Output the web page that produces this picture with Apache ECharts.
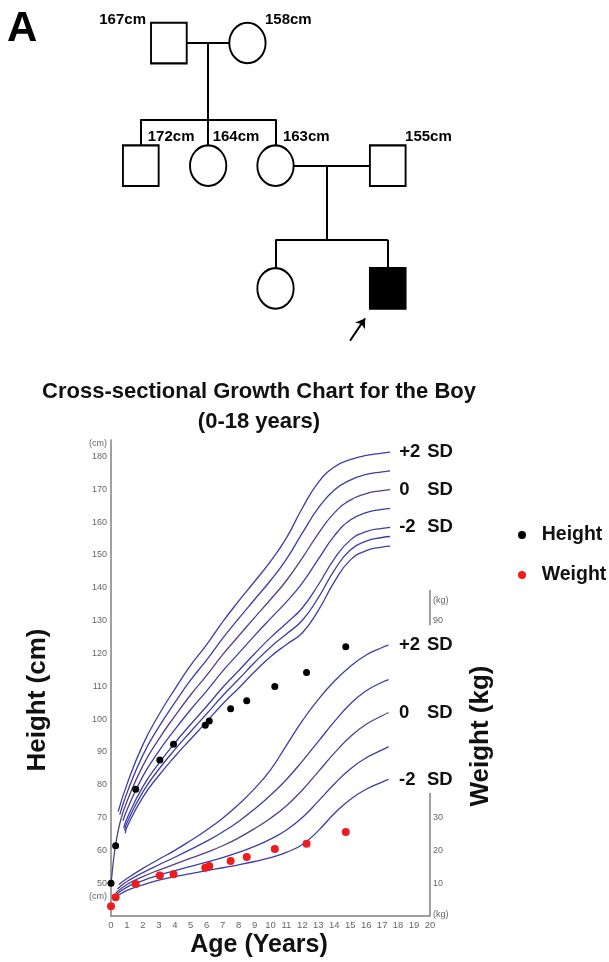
<!DOCTYPE html>
<html><head><meta charset="utf-8">
<script src="https://cdn.jsdelivr.net/npm/echarts@6/dist/echarts.min.js"></script>
<style>html,body{margin:0;padding:0;background:#fff}#c{width:609px;height:962px}</style>
</head><body><div id="c"></div>
<script>
// ---------------- Pedigree data ----------------
const pedCol = [1.25, 4.75, 0, 3, 6, 11, 6, 11];
const pedGen = [0, 0, 1, 1, 1, 1, 2, 2];
const pedSex = ['M', 'F', 'M', 'F', 'F', 'M', 'F', 'M'];
const pedAffected = [0, 0, 0, 0, 0, 0, 0, 1];
const pedLabelText = ['167cm', '158cm', '172cm', '164cm', '163cm', '155cm'];
const pedLabelCol = [0.23, 5.53, 0.31, 3.2, 6.33, 11.77];
const pedLabelGen = [-0.187, -0.187, 0.766, 0.766, 0.766, 0.766];
const pedLabelAlign = ['right', 'left', 'left', 'left', 'left', 'left'];
const pedLinks = [
  [[1.25, 0], [4.75, 0]], [[3, 0], [3, 0.622]], [[0, 0.622], [6, 0.622]],
  [[0, 0.622], [0, 1]], [[3, 0.622], [3, 1]], [[6, 0.622], [6, 1]],
  [[6, 1], [11, 1]], [[8.3, 1], [8.3, 1.603]], [[6, 1.603], [11, 1.603]],
  [[6, 1.603], [6, 2]], [[11, 1.603], [11, 2]]
];
const pedArrow = [[9.32, 2.426], [9.99, 2.244]];

// ---------------- Growth chart data ----------------
const ageTicks = [0,1,2,3,4,5,6,7,8,9,10,11,12,13,14,15,16,17,18,19,20];
const cmLabels = [46, 50, 60, 70, 80, 90, 100, 110, 120, 130, 140, 150, 160, 170, 180, 184];
const kgLabels = [0.6, 10, 20, 30, 90, 96];

// Patient measurements
const visitAges = [0, 0.29, 1.55, 3.06, 3.92, 5.91, 6.16, 7.5, 8.51, 10.27, 12.26, 14.72];
const heightCm  = [50, 61.4, 78.6, 87.5, 92.3, 98.1, 99.4, 103.1, 105.6, 109.9, 114.2, 122.0];
const weightKg  = [3.0, 5.7, 9.75, 12.3, 12.7, 14.7, 15.2, 16.75, 18.0, 20.4, 22.0, 25.6];

// Height reference curves [age, cm]
const hP2 = [[0.45,71.8],[1,80.1],[2,92.2],[3,101.3],[4,109.1],[5,116.4],[6,122.7],[7,129.6],[8,135.9],[9,141.9],[10,148.0],[11,155.2],[12,164.3],[13,172.1],[14,176.8],[15,179.0],[16,180.3],[17,181.0],[17.5,181.3]];
const hP1 = [[0.55,70.9],[1,77.5],[2,89.0],[3,97.6],[4,105.0],[5,111.9],[6,118.0],[7,124.6],[8,130.6],[9,136.4],[10,142.2],[11,148.7],[12,156.7],[13,164.3],[14,169.8],[15,172.8],[16,174.5],[17,175.3],[17.5,175.6]];
const h0  = [[0.65,70.0],[1,74.9],[2,85.8],[3,93.9],[4,100.9],[5,107.4],[6,113.3],[7,119.6],[8,125.3],[9,130.9],[10,136.4],[11,142.2],[12,149.1],[13,156.5],[14,162.8],[15,166.7],[16,168.7],[17,169.6],[17.5,169.9]];
const hM1 = [[0.75,69.0],[1,72.3],[2,82.6],[3,90.2],[4,96.8],[5,102.9],[6,108.6],[7,114.6],[8,120.0],[9,125.4],[10,130.6],[11,135.7],[12,141.5],[13,148.7],[14,155.8],[15,160.6],[16,162.9],[17,163.9],[17.5,164.2]];
const hM2 = [[0.8,66.8],[1,69.7],[2,79.4],[3,86.5],[4,92.7],[5,98.4],[6,103.9],[7,109.6],[8,114.7],[9,119.9],[10,124.8],[11,129.2],[12,133.9],[13,140.9],[14,148.8],[15,154.5],[16,157.1],[17,158.1],[17.5,158.4]];
const hM25 = [[0.85,66.0],[1,68.4],[2,77.8],[3,84.7],[4,90.7],[5,96.2],[6,101.6],[7,107.1],[8,112.1],[9,117.2],[10,121.9],[11,125.9],[12,130.1],[13,137.0],[14,145.3],[15,151.5],[16,154.2],[17,155.3],[17.5,155.6]];
const hM3 = [[0.9,65.2],[1,67.1],[2,76.2],[3,82.8],[4,88.6],[5,93.9],[6,99.2],[7,104.6],[8,109.4],[9,114.4],[10,119.0],[11,122.7],[12,126.3],[13,133.1],[14,141.8],[15,148.4],[16,151.3],[17,152.4],[17.5,152.7]];
const hInfant = [[0,49.5],[0.1,54.5],[0.2,58.8],[0.3,62.0],[0.45,66.0],[0.65,70.0]];

// Weight reference curves [age, kg]
const wP2 = [[0.5,9.6],[1,11.4],[2,14.5],[3,17.3],[4,20.0],[5,23.0],[6,26.2],[7,29.8],[8,34.0],[9,38.8],[10,44.5],[11,52.0],[12,59.5],[13,66.0],[14,71.5],[15,76.0],[16,79.5],[17,81.8],[17.4,82.5]];
const wP1 = [[0.4,8.2],[1,10.5],[2,13.2],[3,15.6],[4,17.9],[5,20.3],[6,22.8],[7,25.6],[8,28.8],[9,32.6],[10,36.8],[11,41.6],[12,47.2],[13,53.2],[14,59.2],[15,64.6],[16,68.6],[17,71.2],[17.4,72.0]];
const w0  = [[0.3,7.0],[1,9.6],[2,12.0],[3,14.0],[4,15.8],[5,17.6],[6,19.4],[7,21.4],[8,23.8],[9,26.6],[10,29.8],[11,33.6],[12,38.4],[13,44.0],[14,49.6],[15,54.6],[16,58.4],[17,61.0],[17.4,62.0]];
const wM1 = [[0.25,6.2],[1,8.8],[2,10.8],[3,12.4],[4,13.8],[5,15.1],[6,16.4],[7,17.8],[8,19.4],[9,21.2],[10,23.4],[11,26.2],[12,30.0],[13,35.0],[14,40.2],[15,44.8],[16,48.2],[17,50.6],[17.4,51.6]];
const wM2 = [[0.2,5.4],[1,7.8],[2,9.5],[3,10.9],[4,12.0],[5,12.9],[6,13.8],[7,14.7],[8,15.6],[9,16.6],[10,17.8],[11,19.4],[12,21.8],[13,26.0],[14,31.2],[15,35.5],[16,38.6],[17,40.8],[17.4,41.6]];

// Broken right (kg) axis segments
const kgAxisLow = [[20, 0], [20, 37.5]];
const kgAxisHigh = [[20, 88.6], [20, 99.3]];

// ---------------- Build ----------------
const FONT = "'Liberation Sans', Arial, Helvetica, sans-serif";
const CURVE = '#3d3da6';
const CURVE0 = '#573d84';

function curve(name, data, yAxisIndex, head, dist, color) {
  const s = {
    name, type: 'line', xAxisIndex: 0, yAxisIndex, data,
    smooth: 0.5, symbol: 'none', silent: true,
    lineStyle: { color: color || CURVE, width: 1.3 }, z: 2
  };
  if (head !== undefined) {
    s.endLabel = {
      show: true, distance: dist,
      formatter: '{a|' + head + '}{b|SD}',
      rich: {
        a: { width: 28, fontSize: 18.5, fontWeight: 'bold', fontFamily: FONT, color: '#111' },
        b: { fontSize: 18.5, fontWeight: 'bold', fontFamily: FONT, color: '#111' }
      }
    };
  }
  return s;
}

const ellipsePath = 'path://M0,1 C0,0.448 0.448,0 1,0 C1.552,0 2,0.448 2,1 C2,1.552 1.552,2 1,2 C0.448,2 0,1.552 0,1 Z';

const pedPeople = pedCol.map((c, i) => ({
  value: [c, pedGen[i]],
  symbol: pedSex[i] === 'M' ? 'rect' : ellipsePath,
  symbolSize: pedSex[i] === 'M' ? [35.7, 40.6] : [36.3, 40.6],
  itemStyle: { color: pedAffected[i] ? '#000' : '#fff', borderColor: '#000', borderWidth: 2, opacity: 1 }
}));
const pedLabels = pedLabelText.map((t, i) => ({
  value: [pedLabelCol[i], pedLabelGen[i]],
  label: { show: true, formatter: t, position: [0, 0], align: pedLabelAlign[i], verticalAlign: 'middle' }
}));

const option = {
  animation: false,
  backgroundColor: '#fff',
  grid: [
    { left: 111, right: 179, top: 440, bottom: 46 },
    { left: 51, width: 449, top: 6.2, height: 343.6 }
  ],
  xAxis: [
    {
      gridIndex: 0, type: 'value', min: 0, max: 20, interval: 1,
      axisLine: { show: true, lineStyle: { color: '#808080', width: 1.5 } },
      axisTick: { show: false }, splitLine: { show: false },
      axisLabel: { color: '#666', fontSize: 9.5, fontFamily: FONT, margin: 4 }
    },
    { gridIndex: 1, type: 'value', min: -4, max: 16, show: false, splitLine: { show: false } }
  ],
  yAxis: [
    {
      gridIndex: 0, type: 'value', min: 40, max: 185, position: 'left',
      axisLine: { show: true, lineStyle: { color: '#808080', width: 1.5 } },
      axisTick: { show: false }, splitLine: { show: false },
      axisLabel: {
        color: '#666', fontSize: 9, fontFamily: FONT, margin: 4,
        customValues: cmLabels,
        formatter: v => (v === 46 || v === 184) ? '(cm)' : String(v)
      }
    },
    {
      gridIndex: 0, type: 'value', min: 0, max: 145, position: 'right',
      axisLine: { show: false }, axisTick: { show: false }, splitLine: { show: false },
      axisLabel: {
        color: '#666', fontSize: 9, fontFamily: FONT, margin: 3,
        customValues: kgLabels,
        formatter: v => (v === 0.6 || v === 96) ? '(kg)' : String(v)
      }
    },
    { gridIndex: 1, type: 'value', min: -0.3, max: 2.5, inverse: true, show: false, splitLine: { show: false } }
  ],
  legend: {
    data: ['Height', 'Weight'], orient: 'vertical', left: 518, top: 525, padding: 0,
    icon: 'circle', itemWidth: 8, itemHeight: 8, itemGap: 20,
    selectedMode: false,
    textStyle: { fontSize: 19.5, fontWeight: 'bold', fontFamily: FONT, color: '#111', padding: [0, 0, 0, 10.7] }
  },
  graphic: [
    { type: 'text', x: 7, y: 8, style: { text: 'A', fontSize: 42, fontWeight: 'bold', fontFamily: FONT, fill: '#000', align: 'left', verticalAlign: 'top' } },
    { type: 'text', x: 259, y: 392, style: { text: 'Cross-sectional Growth Chart for the Boy', fontSize: 22, fontWeight: 'bold', fontFamily: FONT, fill: '#111', align: 'center', verticalAlign: 'middle' } },
    { type: 'text', x: 259, y: 422, style: { text: '(0-18 years)', fontSize: 22, fontWeight: 'bold', fontFamily: FONT, fill: '#111', align: 'center', verticalAlign: 'middle' } },
    { type: 'text', x: 259, y: 945, style: { text: 'Age (Years)', fontSize: 25, fontWeight: 'bold', fontFamily: FONT, fill: '#111', align: 'center', verticalAlign: 'middle' } },
    { type: 'text', x: 38, y: 700, rotation: Math.PI / 2, style: { text: 'Height (cm)', fontSize: 26, fontWeight: 'bold', fontFamily: FONT, fill: '#111', align: 'center', verticalAlign: 'middle' } },
    { type: 'text', x: 481, y: 736, rotation: Math.PI / 2, style: { text: 'Weight (kg)', fontSize: 26, fontWeight: 'bold', fontFamily: FONT, fill: '#111', align: 'center', verticalAlign: 'middle' } }
  ],
  series: [
    // pedigree
    {
      type: 'lines', coordinateSystem: 'cartesian2d', xAxisIndex: 1, yAxisIndex: 2, silent: true,
      data: pedLinks.map(c => ({ coords: c })),
      lineStyle: { color: '#000', width: 2, opacity: 1 }, symbol: 'none', z: 1
    },
    {
      type: 'lines', coordinateSystem: 'cartesian2d', xAxisIndex: 1, yAxisIndex: 2, silent: true,
      data: [{ coords: pedArrow }],
      lineStyle: { color: '#000', width: 2, opacity: 1 }, symbol: ['none', 'arrow'], symbolSize: 9, z: 1
    },
    {
      type: 'scatter', xAxisIndex: 1, yAxisIndex: 2, silent: true, data: pedPeople, z: 3,
      itemStyle: { opacity: 1 }
    },
    {
      type: 'scatter', xAxisIndex: 1, yAxisIndex: 2, silent: true, data: pedLabels, symbolSize: 0, z: 4,
      itemStyle: { opacity: 1 },
      label: { color: '#000', fontSize: 15, fontWeight: 'bold', fontFamily: FONT }
    },
    // height curves
    curve('h+2', hP2, 0, '+2', 9),
    curve('h+1', hP1, 0),
    curve('h0', h0, 0, '0', 9, CURVE0),
    curve('h-1', hM1, 0),
    curve('h-2', hM2, 0, '-2', 9),
    curve('h-2.5', hM25, 0),
    curve('h-3', hM3, 0),
    curve('hInf', hInfant, 0, undefined, 0, CURVE0),
    // weight curves
    curve('w+2', wP2, 1, '+2', 10.5),
    curve('w+1', wP1, 1),
    curve('w0', w0, 1, '0', 10.5, CURVE0),
    curve('w-1', wM1, 1),
    curve('w-2', wM2, 1, '-2', 10.5),
    // right axis segments
    { type: 'line', xAxisIndex: 0, yAxisIndex: 1, data: kgAxisLow, symbol: 'none', silent: true, lineStyle: { color: '#808080', width: 1.5 } },
    { type: 'line', xAxisIndex: 0, yAxisIndex: 1, data: kgAxisHigh, symbol: 'none', silent: true, lineStyle: { color: '#808080', width: 1.5 } },
    // measurements
    {
      name: 'Height', type: 'scatter', xAxisIndex: 0, yAxisIndex: 0, symbolSize: 7, z: 5,
      itemStyle: { color: '#000', opacity: 1 }, data: visitAges.map((a, i) => [a, heightCm[i]])
    },
    {
      name: 'Weight', type: 'scatter', xAxisIndex: 0, yAxisIndex: 1, symbolSize: 8, z: 5,
      itemStyle: { color: '#ee1c1c', opacity: 1 }, data: visitAges.map((a, i) => [a, weightKg[i]])
    }
  ]
};

const chart = echarts.init(document.getElementById('c'), null, { renderer: 'canvas' });
chart.setOption(option);
</script></body></html>
